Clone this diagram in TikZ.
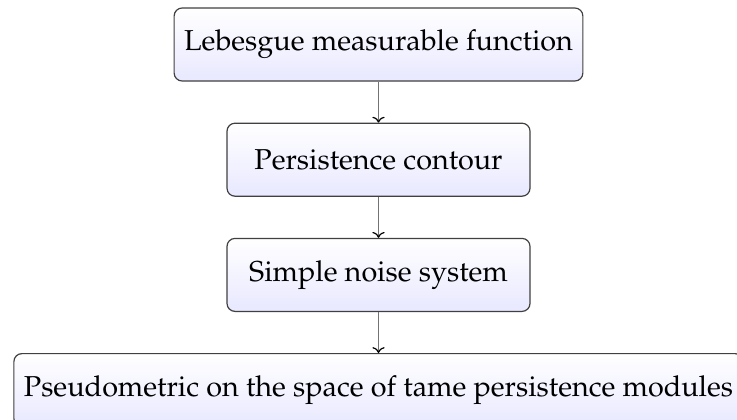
\documentclass[tikz,border=0pt]{standalone}
\usepackage[T1]{fontenc}
\usepackage{mathpazo}
\usepackage{tikz}
\usetikzlibrary{positioning, arrows.meta}

\begin{document}
\begin{tikzpicture}[
      node distance = 20.5pt,
      every node/.style = {font=\fontsize{14.4}{17}\selectfont},
      stage/.style = {draw=black!75, line width=0.6pt, rounded corners=4pt,
                      top color=white, bottom color=blue!9,
                      minimum height=36.5pt, minimum width=151.5pt, inner xsep=5pt},
      arr/.style = {-{To[black]}, draw=black!55, line width=0.6pt}
    ]
    \useasboundingbox (0,0) rectangle (368.5pt,-209.5pt);
    \node[stage] (lebesgue) at (189.25pt,-22.25pt) {Lebesgue measurable function};
    \node[stage, below=of lebesgue] (contour) {Persistence contour};
    \node[stage, below=of contour]  (noise)   {Simple noise system};
    \node[stage, below=of noise]    (pseudo)  {Pseudometric on the space of tame persistence modules};
    \draw[arr] (lebesgue) -- (contour);
    \draw[arr] (contour)  -- (noise);
    \draw[arr] (noise)    -- (pseudo);
  \end{tikzpicture}
\end{document}
